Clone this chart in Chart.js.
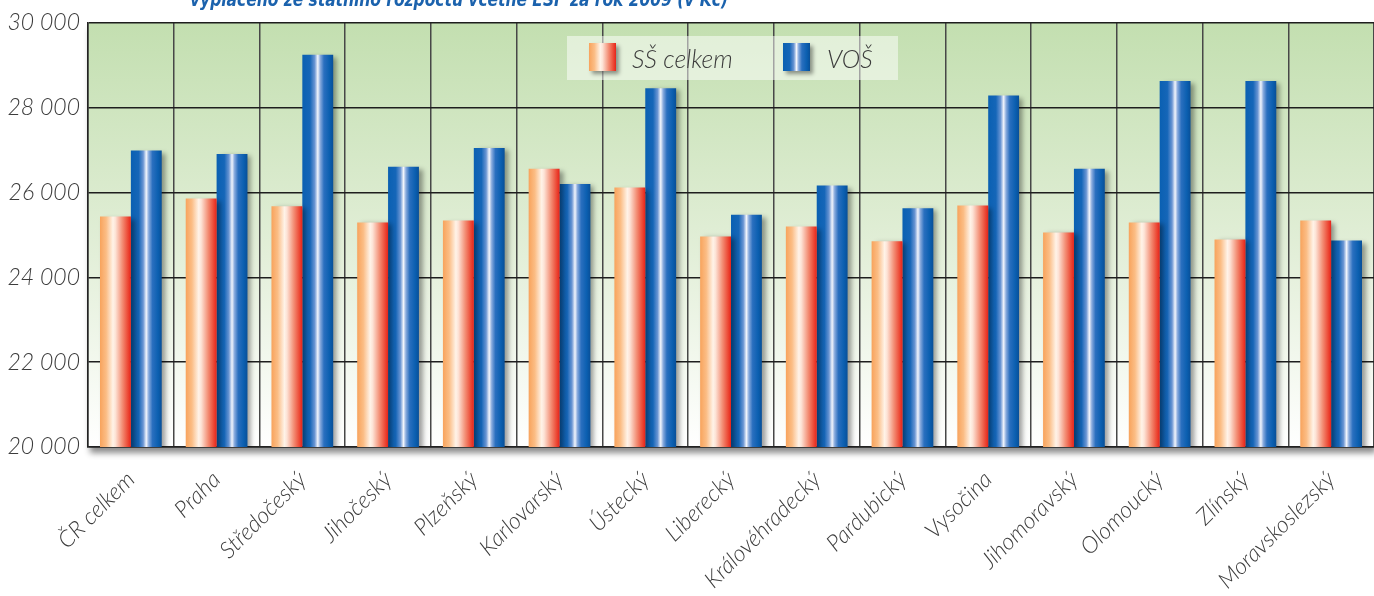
<!DOCTYPE html>
<html>
<head>
<meta charset="utf-8">
<script src="https://cdn.jsdelivr.net/npm/chart.js@4.4.1/dist/chart.umd.min.js"></script>
<style>
  html, body { margin: 0; padding: 0; background: #ffffff; overflow: hidden; }
  #wrap { position: relative; width: 1374px; height: 596px; }
  canvas { position: absolute; left: 0; top: 0; }
  #title {
    position: absolute; left: 190px; top: -13px; white-space: nowrap;
    font: italic bold 20px "Liberation Sans Narrow", "DejaVu Sans Condensed", sans-serif;
    color: #1b62ad; transform-origin: 0 0;
  }
</style>
</head>
<body>
<div id="wrap">
  <canvas id="chart" width="1374" height="596"></canvas>
  <div id="title">vyplaceno ze státního rozpočtu včetně ESF za rok 2009 (v Kč)</div>
</div>
<script>
// Regions (kraje) and the average monthly salary per school type, in CZK
const regions = ['ČR celkem', 'Praha', 'Středočeský', 'Jihočeský', 'Plzeňský', 'Karlovarský',
  'Ústecký', 'Liberecký', 'Královéhradecký', 'Pardubický', 'Vysočina', 'Jihomoravský',
  'Olomoucký', 'Zlínský', 'Moravskoslezský'];
const ssCelkem = [25435, 25860, 25680, 25295, 25340, 26565, 26120, 24965, 25200, 24850,
  25695, 25060, 25295, 24895, 25340];
const vos = [26990, 26910, 29250, 26610, 27050, 26200, 28460, 25480, 26165, 25630,
  28290, 26560, 28635, 28635, 24870];
const seriesNames = ['SŠ celkem', 'VOŠ'];
const yTicks = [20000, 22000, 24000, 26000, 28000, 30000];

const LABEL_FONT = 'Lato, "Open Sans", "DejaVu Sans", sans-serif';

// Cylinder-like horizontal shading for each series
const shading = [
  [[0, '#f8a35c'], [0.2, '#fbbd85'], [0.42, '#fff3e8'], [0.5, '#fde3d6'],
   [0.72, '#f38f76'], [0.9, '#ec4a36'], [1, '#e6231a']],
  [[0, '#0a60b2'], [0.25, '#1566b8'], [0.4, '#6a95d3'], [0.5, '#f2f5fc'],
   [0.58, '#88aadd'], [0.7, '#2a6fbf'], [0.88, '#0b5fb0'], [1, '#084f98']]
];
function makeShade(ctx, x0, x1, stops) {
  const g = ctx.createLinearGradient(x0, 0, x1, 0);
  stops.forEach(s => g.addColorStop(s[0], s[1]));
  return g;
}

const fmt = v => String(v).replace(/\B(?=(\d{3})+(?!\d))/g, ' ');

// Green-to-white plot background with a soft drop shadow
const plotBackground = {
  id: 'plotBackground',
  beforeDraw(chart) {
    const { ctx, chartArea: a } = chart;
    ctx.save();
    ctx.shadowColor = 'rgba(0,0,0,0.45)';
    ctx.shadowBlur = 6;
    ctx.shadowOffsetX = 2;
    ctx.shadowOffsetY = 6;
    const g = ctx.createLinearGradient(0, a.top, 0, a.bottom);
    g.addColorStop(0, '#c3dfb0');
    g.addColorStop(0.55, '#e3efd9');
    g.addColorStop(1, '#ffffff');
    ctx.fillStyle = g;
    ctx.fillRect(a.left, a.top, a.right - a.left, a.bottom - a.top);
    ctx.restore();
  }
};

// Per-bar gradient fill and drop shadow
const barLook = {
  id: 'barLook',
  beforeDatasetsDraw(chart) {
    const ctx = chart.ctx;
    chart.data.datasets.forEach((ds, i) => {
      chart.getDatasetMeta(i).data.forEach(el => {
        const x0 = el.x - el.width / 2, x1 = el.x + el.width / 2;
        el.options = Object.assign({}, el.options, {
          backgroundColor: makeShade(ctx, x0, x1, shading[i])
        });
      });
    });
  },
  beforeDatasetDraw(chart) {
    const c = chart.ctx;
    c.save();
    c.shadowColor = 'rgba(0,0,0,0.38)';
    c.shadowBlur = 5;
    c.shadowOffsetX = 4;
    c.shadowOffsetY = 2;
  },
  afterDatasetDraw(chart) {
    chart.ctx.restore();
  }
};

// Legend panel inside the plot area
const panelLegend = {
  id: 'panelLegend',
  afterDraw(chart) {
    const ctx = chart.ctx;
    ctx.save();
    ctx.fillStyle = 'rgba(255,255,255,0.5)';
    ctx.fillRect(567, 36, 331, 44);
    const items = [{ x: 589, tx: 632 }, { x: 783, tx: 827 }];
    items.forEach((it, i) => {
      ctx.save();
      ctx.shadowColor = 'rgba(0,0,0,0.4)';
      ctx.shadowBlur = 4;
      ctx.shadowOffsetX = 3;
      ctx.shadowOffsetY = 3;
      ctx.fillStyle = makeShade(ctx, it.x, it.x + 27, shading[i]);
      ctx.fillRect(it.x, 43, 27, 28);
      ctx.restore();
      ctx.fillStyle = '#3c3c3c';
      ctx.font = 'italic 300 25px ' + LABEL_FONT;
      ctx.textBaseline = 'middle';
      ctx.textAlign = 'left';
      ctx.fillText(seriesNames[i], it.tx, 60);
    });
    ctx.restore();
  }
};

new Chart(document.getElementById('chart'), {
  type: 'bar',
  data: {
    labels: regions,
    datasets: [
      { label: seriesNames[0], data: ssCelkem, backgroundColor: () => '#f59a5a', borderWidth: 0 },
      { label: seriesNames[1], data: vos, backgroundColor: () => '#0b5fb0', borderWidth: 0 }
    ]
  },
  options: {
    responsive: false,
    animation: false,
    layout: { padding: { top: 23, right: 0, left: 0, bottom: 0 } },
    datasets: { bar: { categoryPercentage: 0.72, barPercentage: 1.0 } },
    plugins: { legend: { display: false }, tooltip: { enabled: false }, title: { display: false } },
    scales: {
      x: {
        grid: { color: '#474747', lineWidth: 1.5, drawTicks: false, offset: true },
        border: { color: '#222222', width: 1.5 },
        ticks: {
          autoSkip: false, maxRotation: 45, minRotation: 45, padding: 19,
          color: '#3c3c3c', font: { family: LABEL_FONT, size: 23, style: 'italic', weight: 300 }
        },
        afterFit(s) { s.height = 149; s.paddingLeft = 0; s.paddingRight = 0; }
      },
      y: {
        min: 20000, max: 30000,
        grid: { color: '#1e1e1e', lineWidth: 1.5, drawTicks: false },
        border: { color: '#222222', width: 1.5 },
        afterBuildTicks(s) { s.ticks = yTicks.map(v => ({ value: v })); },
        ticks: {
          padding: 8, color: '#3c3c3c', callback: v => fmt(v),
          font: { family: LABEL_FONT, size: 23, style: 'italic', weight: 300 }
        },
        afterFit(s) { s.width = 88; }
      }
    }
  },
  plugins: [plotBackground, barLook, panelLegend]
});

// Fit the heading to its line width
const t = document.getElementById('title');
const w = t.getBoundingClientRect().width;
t.style.transform = 'scaleX(' + (538 / w) + ')';
</script>
</body>
</html>
